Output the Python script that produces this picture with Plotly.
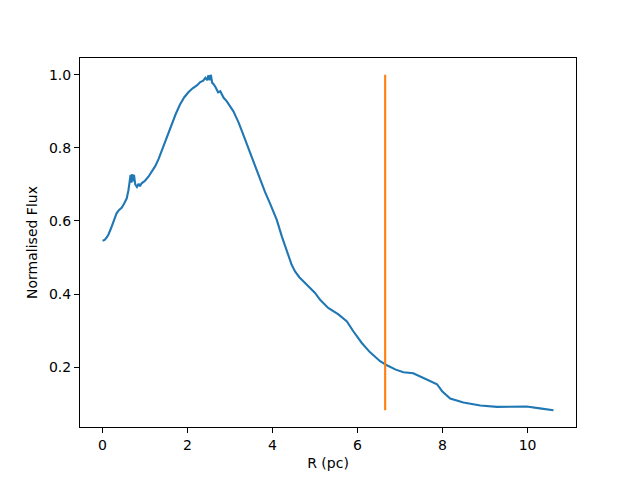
import plotly.graph_objects as go

r_pc = [0.0, 0.05, 0.1, 0.14, 0.2, 0.25, 0.29, 0.33, 0.39, 0.45, 0.51, 0.57, 0.61, 0.64,
        0.66, 0.68, 0.70, 0.72, 0.74, 0.77, 0.81, 0.85, 0.88, 0.92, 1.0, 1.08, 1.16, 1.24,
        1.32, 1.4, 1.5, 1.62, 1.72, 1.82, 1.92, 2.02, 2.12, 2.22, 2.30, 2.37, 2.42, 2.46,
        2.49, 2.52, 2.55, 2.58, 2.61, 2.66, 2.72, 2.77, 2.85, 2.92, 3.0, 3.08, 3.14, 3.2,
        3.3, 3.39, 3.47, 3.59, 3.71, 3.82, 3.94, 4.02, 4.1, 4.22, 4.3, 4.38, 4.45, 4.53,
        4.63, 4.73, 4.86, 5.0, 5.12, 5.31, 5.55, 5.75, 5.9, 6.1, 6.29, 6.53, 6.69, 6.9,
        7.08, 7.31, 7.59, 7.87, 7.99, 8.18, 8.49, 8.89, 9.28, 9.67, 9.98, 10.29, 10.61]
flux = [0.546, 0.548, 0.555, 0.563, 0.580, 0.596, 0.612, 0.621, 0.630, 0.636, 0.648, 0.662,
        0.684, 0.705, 0.726, 0.705, 0.728, 0.708, 0.726, 0.700, 0.693, 0.702, 0.695, 0.703,
        0.710, 0.721, 0.736, 0.750, 0.770, 0.795, 0.825, 0.862, 0.892, 0.918, 0.938, 0.952,
        0.963, 0.971, 0.980, 0.984, 0.992, 0.985, 0.999, 0.985, 1.0, 0.978, 0.975, 0.966,
        0.952, 0.955, 0.937, 0.928, 0.915, 0.900, 0.885, 0.870, 0.840, 0.812, 0.785, 0.748,
        0.712, 0.680, 0.648, 0.625, 0.603, 0.557, 0.528, 0.503, 0.480, 0.462, 0.446, 0.434,
        0.419, 0.403, 0.384, 0.362, 0.344, 0.325, 0.298, 0.266, 0.241, 0.216, 0.205, 0.193,
        0.186, 0.183, 0.168, 0.153, 0.134, 0.114, 0.103, 0.095, 0.091, 0.092, 0.092, 0.087,
        0.082]

cut_r = [6.65, 6.65]
cut_flux = [0.082, 1.0]

x_ticks = [0, 2, 4, 6, 8, 10]
y_ticks = [0.2, 0.4, 0.6, 0.8, 1.0]
y_tick_labels = ["0.2", "0.4", "0.6", "0.8", "1.0"]

fig = go.Figure()
fig.add_trace(go.Scatter(x=r_pc, y=flux, mode="lines",
                         line=dict(color="#1f77b4", width=2.1)))
fig.add_trace(go.Scatter(x=cut_r, y=cut_flux, mode="lines",
                         line=dict(color="#ff7f0e", width=2.1)))

axis_common = dict(showline=True, linecolor="black", linewidth=1, mirror=True,
                   ticks="outside", ticklen=5, tickwidth=1, tickcolor="black",
                   showgrid=False, zeroline=False,
                   tickfont=dict(family="DejaVu Sans", size=14, color="black"))

fig.update_layout(
    width=640, height=480,
    margin=dict(l=72, r=72, t=50, b=61),
    paper_bgcolor="white", plot_bgcolor="white",
    showlegend=False,
    font=dict(family="DejaVu Sans", size=14, color="black"),
    xaxis=dict(range=[-0.53, 11.14], tickvals=x_ticks,
               title=dict(text="R (pc)", font=dict(size=14), standoff=6), **axis_common),
    yaxis=dict(range=[0.036, 1.046], tickvals=y_ticks, ticktext=y_tick_labels,
               title=dict(text="Normalised Flux", font=dict(size=14), standoff=8), **axis_common),
)

fig.write_html("out.html")
